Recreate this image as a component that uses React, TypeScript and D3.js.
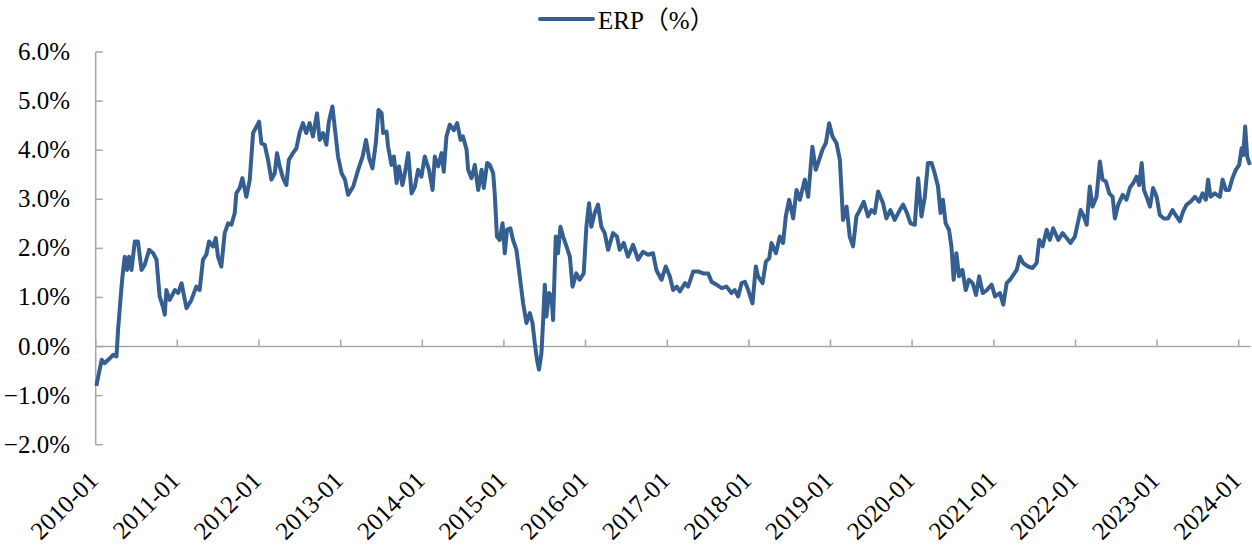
import React from 'react';
import * as d3 from 'd3';

// ERP daily series (value in %)
const dates = [
  '2010-01-04', '2010-01-15', '2010-01-28', '2010-02-10', '2010-03-05', '2010-03-20', '2010-04-04', '2010-04-11',
  '2010-04-26', '2010-05-03', '2010-05-11', '2010-05-21', '2010-05-30', '2010-06-10', '2010-06-25', '2010-07-09',
  '2010-07-25', '2010-08-08', '2010-08-28', '2010-09-15', '2010-09-30', '2010-10-14', '2010-10-29', '2010-11-06',
  '2010-11-13', '2010-11-28', '2010-12-21', '2011-01-05', '2011-01-20', '2011-02-11', '2011-03-05', '2011-03-27',
  '2011-04-11', '2011-04-26', '2011-05-11', '2011-05-23', '2011-06-10', '2011-06-22', '2011-07-02', '2011-07-17',
  '2011-08-01', '2011-08-16', '2011-08-31', '2011-09-15', '2011-09-22', '2011-10-07', '2011-10-19', '2011-11-06',
  '2011-11-21', '2011-12-06', '2011-12-21', '2012-01-02', '2012-01-12', '2012-01-27', '2012-02-11', '2012-02-26',
  '2012-03-12', '2012-03-22', '2012-04-03', '2012-04-18', '2012-05-03', '2012-05-14', '2012-06-01', '2012-06-17',
  '2012-07-01', '2012-07-16', '2012-07-31', '2012-08-15', '2012-08-30', '2012-09-17', '2012-09-29', '2012-10-14',
  '2012-10-29', '2012-11-09', '2012-11-25', '2012-12-05', '2012-12-20', '2013-01-05', '2013-01-20', '2013-02-03',
  '2013-02-26', '2013-03-20', '2013-04-09', '2013-04-24', '2013-05-08', '2013-05-23', '2013-06-07', '2013-06-19',
  '2013-07-03', '2013-07-10', '2013-07-25', '2013-08-01', '2013-08-16', '2013-08-27', '2013-09-08', '2013-09-19',
  '2013-10-04', '2013-10-15', '2013-10-30', '2013-11-14', '2013-11-29', '2013-12-13', '2013-12-28', '2014-01-12',
  '2014-01-31', '2014-02-16', '2014-02-26', '2014-03-13', '2014-03-28', '2014-04-07', '2014-04-19', '2014-05-04',
  '2014-05-22', '2014-06-06', '2014-06-21', '2014-07-02', '2014-07-18', '2014-07-25', '2014-08-09', '2014-08-24',
  '2014-09-08', '2014-09-23', '2014-10-03', '2014-10-18', '2014-10-30', '2014-11-14', '2014-11-21', '2014-12-01',
  '2014-12-13', '2014-12-26', '2015-01-05', '2015-01-15', '2015-01-30', '2015-02-11', '2015-02-26', '2015-03-13',
  '2015-03-28', '2015-04-12', '2015-04-27', '2015-05-09', '2015-05-19', '2015-05-29', '2015-06-07', '2015-06-18',
  '2015-06-25', '2015-07-03', '2015-07-10', '2015-07-22', '2015-08-02', '2015-08-09', '2015-08-21', '2015-08-31',
  '2015-09-11', '2015-09-23', '2015-10-08', '2015-10-23', '2015-11-04', '2015-11-21', '2015-12-06', '2015-12-24',
  '2016-01-05', '2016-01-17', '2016-01-27', '2016-02-11', '2016-02-26', '2016-03-12', '2016-03-27', '2016-04-11',
  '2016-05-03', '2016-05-21', '2016-06-02', '2016-06-20', '2016-07-09', '2016-08-01', '2016-08-23', '2016-09-14',
  '2016-10-07', '2016-10-29', '2016-11-13', '2016-12-06', '2016-12-25', '2017-01-12', '2017-01-27', '2017-02-12',
  '2017-02-26', '2017-03-21', '2017-04-04', '2017-04-27', '2017-05-19', '2017-06-10', '2017-07-03', '2017-07-18',
  '2017-08-09', '2017-09-01', '2017-09-23', '2017-10-15', '2017-10-30', '2017-11-14', '2017-11-29', '2017-12-14',
  '2017-12-29', '2018-01-17', '2018-02-01', '2018-02-11', '2018-03-03', '2018-03-18', '2018-04-02', '2018-04-12',
  '2018-05-02', '2018-05-19', '2018-06-03', '2018-06-15', '2018-06-30', '2018-07-18', '2018-08-02', '2018-08-17',
  '2018-09-08', '2018-09-23', '2018-10-12', '2018-10-27', '2018-11-11', '2018-11-26', '2018-12-11', '2018-12-26',
  '2019-01-10', '2019-01-28', '2019-02-12', '2019-02-26', '2019-03-14', '2019-03-28', '2019-04-12', '2019-04-27',
  '2019-05-12', '2019-05-30', '2019-06-18', '2019-07-03', '2019-07-18', '2019-08-02', '2019-08-24', '2019-09-08',
  '2019-09-26', '2019-10-15', '2019-11-07', '2019-11-22', '2019-12-09', '2019-12-25', '2020-01-13', '2020-01-28',
  '2020-02-12', '2020-02-27', '2020-03-12', '2020-03-28', '2020-04-11', '2020-04-26', '2020-05-07', '2020-05-18',
  '2020-05-30', '2020-06-14', '2020-06-25', '2020-07-05', '2020-07-17', '2020-07-29', '2020-08-13', '2020-08-28',
  '2020-09-11', '2020-09-28', '2020-10-13', '2020-10-27', '2020-11-12', '2020-11-30', '2020-12-22', '2021-01-06',
  '2021-01-28', '2021-02-12', '2021-02-27', '2021-03-14', '2021-03-29', '2021-04-13', '2021-04-27', '2021-05-12',
  '2021-06-03', '2021-06-23', '2021-07-11', '2021-07-23', '2021-08-07', '2021-08-25', '2021-09-08', '2021-09-23',
  '2021-10-16', '2021-11-04', '2021-11-22', '2021-12-10', '2021-12-29', '2022-01-13', '2022-01-24', '2022-02-07',
  '2022-02-20', '2022-03-06', '2022-03-18', '2022-04-05', '2022-04-20', '2022-05-02', '2022-05-17', '2022-06-01',
  '2022-06-16', '2022-06-26', '2022-07-11', '2022-07-31', '2022-08-17', '2022-09-01', '2022-09-16', '2022-10-01',
  '2022-10-13', '2022-10-24', '2022-11-03', '2022-11-15', '2022-11-30', '2022-12-14', '2022-12-30', '2023-01-13',
  '2023-01-31', '2023-02-19', '2023-03-11', '2023-03-29', '2023-04-13', '2023-04-27', '2023-05-13', '2023-05-31',
  '2023-06-19', '2023-07-08', '2023-07-23', '2023-08-07', '2023-08-17', '2023-08-28', '2023-09-16', '2023-10-09',
  '2023-10-21', '2023-11-04', '2023-11-19', '2023-12-04', '2023-12-19', '2024-01-03', '2024-01-14', '2024-01-21',
  '2024-01-30', '2024-02-08', '2024-02-20',
];

const erp = [
  -0.80, -0.55, -0.27, -0.34, -0.24, -0.17, -0.20, 0.34,
  1.19, 1.53, 1.83, 1.56, 1.83, 1.56, 2.14, 2.14,
  1.56, 1.66, 1.97, 1.90, 1.77, 1.02, 0.81, 0.65,
  1.15, 0.95, 1.15, 1.09, 1.29, 0.78, 0.95, 1.22,
  1.15, 1.77, 1.87, 2.14, 2.04, 2.21, 1.83, 1.63,
  2.31, 2.51, 2.48, 2.72, 3.12, 3.23, 3.43, 3.05,
  3.39, 4.35, 4.48, 4.58, 4.14, 4.11, 3.80, 3.40,
  3.53, 3.94, 3.67, 3.43, 3.29, 3.80, 3.94, 4.04,
  4.35, 4.55, 4.35, 4.55, 4.28, 4.75, 4.21, 4.35,
  4.11, 4.58, 4.89, 4.48, 3.87, 3.53, 3.40, 3.09,
  3.26, 3.60, 3.87, 4.21, 3.84, 3.63, 4.14, 4.82,
  4.75, 4.35, 4.38, 4.07, 3.70, 3.87, 3.33, 3.67,
  3.29, 3.53, 3.94, 3.12, 3.26, 3.60, 3.46, 3.87,
  3.60, 3.19, 3.87, 3.67, 3.94, 3.56, 4.28, 4.52,
  4.41, 4.55, 4.21, 4.28, 4.01, 3.60, 3.43, 3.70,
  3.19, 3.60, 3.23, 3.74, 3.70, 3.53, 3.12, 2.24,
  2.17, 2.51, 1.90, 2.38, 2.41, 2.17, 1.97, 1.43,
  0.88, 0.48, 0.68, 0.48, 0.07, -0.27, -0.47, -0.13,
  0.48, 1.26, 0.61, 1.09, 1.02, 0.54, 2.24, 1.90,
  2.44, 2.24, 2.04, 1.83, 1.22, 1.49, 1.36, 1.49,
  2.44, 2.92, 2.44, 2.72, 2.89, 2.44, 2.31, 1.97,
  2.31, 2.24, 1.97, 2.11, 1.83, 2.07, 1.77, 1.93,
  1.87, 1.90, 1.56, 1.36, 1.63, 1.43, 1.15, 1.22,
  1.12, 1.29, 1.22, 1.53, 1.53, 1.49, 1.49, 1.32,
  1.26, 1.19, 1.22, 1.09, 1.15, 1.02, 1.29, 1.32,
  1.15, 0.88, 1.63, 1.43, 1.29, 1.73, 1.80, 2.11,
  1.90, 2.24, 2.11, 2.65, 2.99, 2.61, 3.19, 2.99,
  3.40, 3.05, 4.07, 3.60, 3.80, 4.01, 4.14, 4.55,
  4.28, 4.14, 3.80, 2.58, 2.85, 2.24, 2.04, 2.65,
  2.78, 2.95, 2.65, 2.78, 2.72, 3.16, 2.92, 2.61,
  2.78, 2.58, 2.78, 2.89, 2.72, 2.51, 2.48, 3.43,
  2.65, 3.05, 3.74, 3.74, 3.53, 3.26, 2.72, 2.99,
  2.51, 2.38, 2.04, 1.36, 1.90, 1.43, 1.56, 1.15,
  1.36, 1.29, 1.05, 1.43, 1.09, 1.15, 1.26, 1.02,
  1.09, 0.85, 1.29, 1.36, 1.46, 1.56, 1.83, 1.70,
  1.63, 1.60, 1.70, 2.17, 2.04, 2.38, 2.17, 2.41,
  2.17, 2.31, 2.21, 2.11, 2.24, 2.55, 2.78, 2.65,
  2.48, 3.26, 2.85, 3.05, 3.77, 3.40, 3.36, 3.12,
  3.05, 2.61, 2.89, 3.09, 2.99, 3.23, 3.33, 3.46,
  3.29, 3.74, 3.19, 3.05, 2.85, 3.23, 3.05, 2.68,
  2.61, 2.61, 2.78, 2.65, 2.55, 2.75, 2.89, 2.95,
  3.05, 2.95, 3.12, 2.99, 3.40, 3.05, 3.12, 3.05,
  3.40, 3.19, 3.19, 3.43, 3.60, 3.70, 4.04, 3.90,
  4.48, 3.87, 3.70,
];

const xTickLabels = [
  '2010-01', '2011-01', '2012-01', '2013-01', '2014-01', '2015-01', '2016-01', '2017-01',
  '2018-01', '2019-01', '2020-01', '2021-01', '2022-01', '2023-01', '2024-01',
];
const yTicks = [-2, -1, 0, 1, 2, 3, 4, 5, 6];
const seriesName = 'ERP（%）';

const W = 1252, H = 545;
const FONT = '"Liberation Serif", "Times New Roman", "Noto Sans CJK SC", serif';
const LINE = '#365f91';
const AXIS = '#a6a6a6';

export default function App() {
  const parse = d3.timeParse('%Y-%m-%d');
  const parseMonth = d3.timeParse('%Y-%m');
  const data = dates.map((d, i) => ({ date: parse(d), value: erp[i] }));

  const x = d3.scaleTime()
    .domain([parseMonth('2010-01'), parseMonth('2024-01')])
    .range([95.7, 1238.7]);
  const y = d3.scaleLinear().domain([-2, 6]).range([444.7, 52]);

  const line = d3.line()
    .x(d => x(d.date))
    .y(d => y(d.value));

  const axisEnd = x(parse('2024-02-23'));

  return (
    <svg width={W} height={H} style={{ position: 'absolute', left: 0, top: 0, background: '#fff' }}
      fontFamily={FONT}>
      {/* legend */}
      <line x1={540} x2={593} y1={19} y2={19} stroke={LINE} strokeWidth={4} strokeLinecap="round" />
      <text x={598} y={29} fontSize={25} fill="#000">{seriesName}</text>

      {/* y axis */}
      <line x1={x.range()[0]} x2={x.range()[0]} y1={y(6)} y2={y(-2)} stroke={AXIS} strokeWidth={1.5} />
      {yTicks.map(t => (
        <g key={t}>
          <line x1={x.range()[0]} x2={x.range()[0] + 7} y1={y(t)} y2={y(t)} stroke={AXIS} strokeWidth={1.5} />
          <text x={70} y={y(t)} dy={8} textAnchor="end" fontSize={25} fill="#000">
            {d3.format('.1f')(t) + '%'}
          </text>
        </g>
      ))}

      {/* x axis sits at 0% */}
      <line x1={x.range()[0]} x2={axisEnd} y1={y(0)} y2={y(0)} stroke={AXIS} strokeWidth={1.5} />
      {xTickLabels.map(l => {
        const tx = x(parseMonth(l));
        return (
          <g key={l}>
            <line x1={tx} x2={tx} y1={y(0)} y2={y(0) - 7} stroke={AXIS} strokeWidth={1.5} />
            <text transform={`translate(${tx + 4},${482}) rotate(-45)`} textAnchor="end"
              fontSize={25} fill="#000">{l}</text>
          </g>
        );
      })}

      <path d={line(data)} fill="none" stroke={LINE} strokeWidth={4} strokeLinejoin="round" />
    </svg>
  );
}
